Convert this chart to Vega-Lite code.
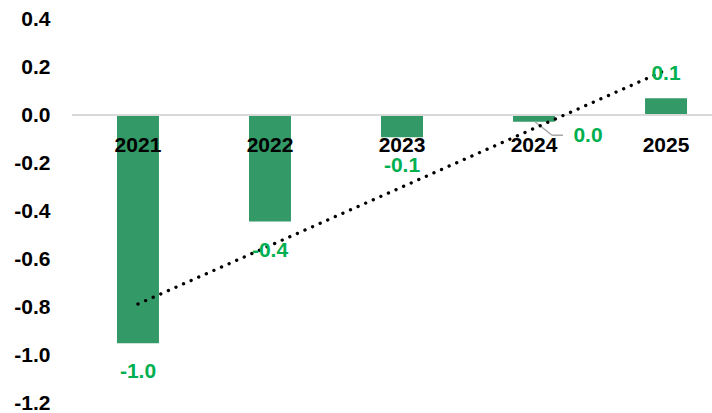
{
  "$schema": "https://vega.github.io/schema/vega-lite/v6.json",
  "width": 640,
  "height": 384,
  "autosize": {"type": "none"},
  "padding": {"left": 72, "top": 19, "right": 0, "bottom": 10},
  "background": "white",
  "config": {
    "view": {"stroke": null},
    "font": "Liberation Sans",
    "locale": {"number": {"decimal": ".", "thousands": ",", "grouping": [3], "currency": ["$", ""], "minus": "-"}},
    "axisY": {
      "grid": false, "domain": false, "ticks": false, "tickSize": 0,
      "labelPadding": 22, "labelFont": "Liberation Sans", "labelFontSize": 21,
      "labelFontWeight": "bold", "labelColor": "black", "labelFlush": false,
      "labelOverlap": false, "labelBound": false, "title": null
    }
  },
  "data": {
    "values": [
      {"year": "2021", "value": -0.951, "trend": -0.7875},
      {"year": "2022", "value": -0.444, "trend": -0.544},
      {"year": "2023", "value": -0.093, "trend": -0.300},
      {"year": "2024", "value": -0.028, "trend": -0.056},
      {"year": "2025", "value": 0.07, "trend": 0.1875}
    ]
  },
  "encoding": {
    "x": {
      "field": "year", "type": "nominal", "axis": null, "sort": null,
      "scale": {"paddingInner": 0.682, "paddingOuter": 0.265, "align": 0.643}
    }
  },
  "layer": [
    {
      "mark": {"type": "bar", "color": "#339966"},
      "encoding": {
        "y": {
          "field": "value", "type": "quantitative", "title": null,
          "scale": {"domain": [-1.2, 0.4], "nice": false, "zero": false},
          "axis": {"values": [-1.2, -1, -0.8, -0.6, -0.4, -0.2, 0, 0.2, 0.4], "format": ".1f", "title": null}
        },
        "y2": {"datum": 0}
      }
    },
    {
      "mark": {"type": "rule", "color": "#D9D9D9", "strokeWidth": 2},
      "encoding": {"y": {"datum": 0, "type": "quantitative", "title": null}, "x": null}
    },
    {
      "transform": [{"filter": "datum.year == '2024'"}],
      "mark": {"type": "rule", "color": "#A6A6A6", "strokeWidth": 1.5, "xOffset": 1, "x2Offset": 18, "y2Offset": 13.5},
      "encoding": {
        "x": {"field": "year", "type": "nominal", "bandPosition": 0.5},
        "x2": {"field": "year", "bandPosition": 0.5},
        "y": {"field": "value", "type": "quantitative", "title": null},
        "y2": {"field": "value"}
      }
    },
    {
      "transform": [{"filter": "datum.year == '2024'"}],
      "mark": {"type": "rule", "color": "#A6A6A6", "strokeWidth": 1.5, "xOffset": 18, "x2Offset": 29, "yOffset": 13.5, "y2Offset": 13.5},
      "encoding": {
        "x": {"field": "year", "type": "nominal", "bandPosition": 0.5},
        "x2": {"field": "year", "bandPosition": 0.5},
        "y": {"field": "value", "type": "quantitative", "title": null},
        "y2": {"field": "value"}
      }
    },
    {
      "mark": {"type": "text", "baseline": "middle", "align": "center", "dy": 31, "fontSize": 21, "fontWeight": "bold", "color": "black", "font": "Liberation Sans"},
      "encoding": {
        "y": {"datum": 0, "type": "quantitative", "title": null},
        "text": {"field": "year"}
      }
    },
    {
      "mark": {"type": "line", "color": "black", "strokeWidth": 3.3, "strokeDash": [0.1, 8.2], "strokeCap": "round"},
      "encoding": {
        "y": {"field": "trend", "type": "quantitative", "title": null}
      }
    },
    {
      "transform": [{"filter": "datum.year == '2021' || datum.year == '2022' || datum.year == '2023'"}],
      "mark": {"type": "text", "baseline": "middle", "align": "center", "dy": 29, "fontSize": 21, "fontWeight": "bold", "color": "#00B050", "font": "Liberation Sans"},
      "encoding": {
        "y": {"field": "value", "type": "quantitative", "title": null},
        "text": {"field": "value", "type": "quantitative", "format": ".1f"}
      }
    },
    {
      "transform": [{"filter": "datum.year == '2024'"}],
      "mark": {"type": "text", "baseline": "middle", "align": "center", "dx": 54, "dy": 14, "fontSize": 21, "fontWeight": "bold", "color": "#00B050", "font": "Liberation Sans"},
      "encoding": {
        "y": {"field": "value", "type": "quantitative", "title": null},
        "text": {"field": "value", "type": "quantitative", "format": ".1f"}
      }
    },
    {
      "transform": [{"filter": "datum.year == '2025'"}],
      "mark": {"type": "text", "baseline": "middle", "align": "center", "dy": -24, "fontSize": 21, "fontWeight": "bold", "color": "#00B050", "font": "Liberation Sans"},
      "encoding": {
        "y": {"field": "value", "type": "quantitative", "title": null},
        "text": {"field": "value", "type": "quantitative", "format": ".1f"}
      }
    }
  ]
}
